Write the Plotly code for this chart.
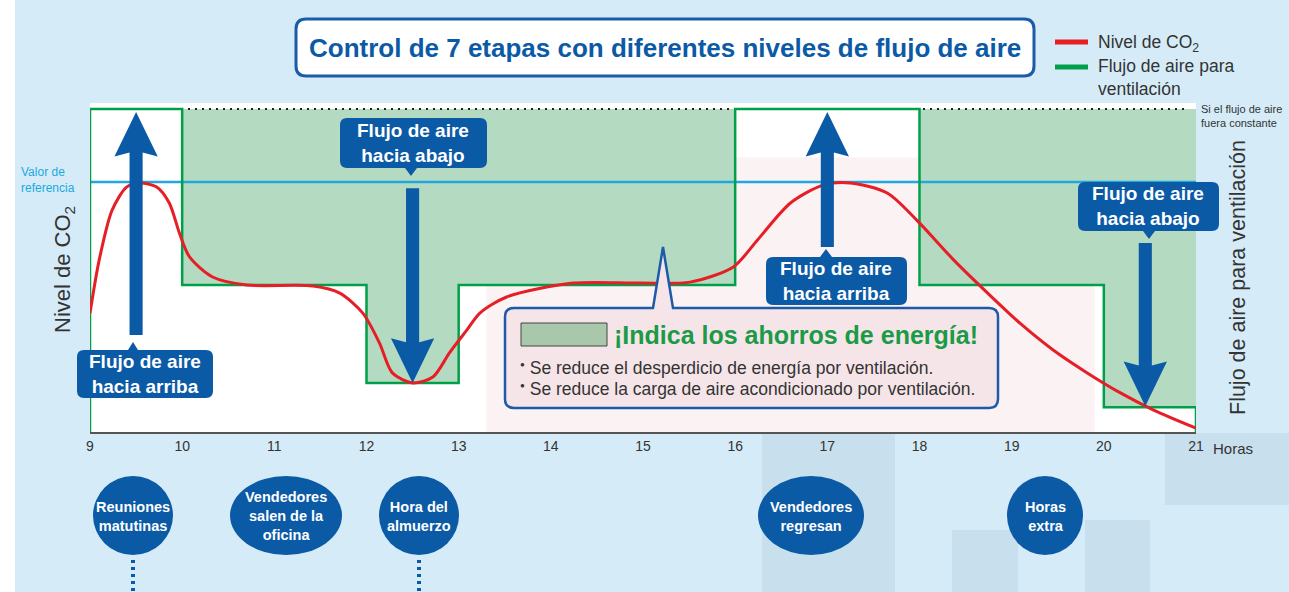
import plotly.graph_objects as go

# ---------------------------------------------------------------------------
# datos (hora del día, nivel relativo 0-100)
# ---------------------------------------------------------------------------
co2_hours = [9.0, 9.10, 9.24, 9.40, 9.54, 9.72, 9.86, 9.97, 10.08, 10.33, 10.70,
             11.42, 11.71, 11.96, 12.14, 12.28, 12.50, 12.72, 12.90, 13.09, 13.23,
             13.52, 14.24, 14.97, 15.51, 15.98, 16.24, 16.60, 16.96, 17.25, 17.65,
             17.97, 18.37, 18.74, 19.09, 19.45, 19.82, 20.18, 20.54, 21.0]
co2_level = [36.8, 53.3, 68.7, 75.9, 77.1, 75.9, 70.9, 61.6, 54.2, 48.0, 45.5,
             45.2, 43.0, 36.8, 27.6, 18.3, 15.2, 17.0, 24.5, 31.6, 36.8,
             41.8, 46.1, 46.1, 46.4, 51.1, 59.4, 70.9, 76.5, 77.1, 74.0,
             65.6, 53.3, 43.0, 33.7, 25.4, 18.3, 12.1, 6.8, 1.2]

flow_hours = [9, 10, 12, 13, 16, 18, 20, 21]
flow_level = [100, 45.5, 15.2, 45.5, 100, 45.5, 7.7, 7.7]
constant_flow = 100
reference_level = 77.4

tick_hours = list(range(9, 22))

arrow_hours = [9.5, 12.5, 17.0, 20.45]
arrow_tail = [30.0, 75.5, 57.3, 58.5]
arrow_tip = [99.1, 15.2, 99.1, 8.0]
arrow_labels = ["Flujo de aire<br>hacia arriba", "Flujo de aire<br>hacia abajo",
                "Flujo de aire<br>hacia arriba", "Flujo de aire<br>hacia abajo"]

events = ["Reuniones<br>matutinas", "Vendedores<br>salen de la<br>oficina",
          "Hora del<br>almuerzo", "Vendedores<br>regresan", "Horas<br>extra"]

# ---------------------------------------------------------------------------
# colores / geometría
# ---------------------------------------------------------------------------
BLUE = "#0b5aa6"
BG = "#d5ecf8"
GREEN = "#00a04a"
GREEN_FILL = "#b4dbc2"
RED = "#e61f26"
CYAN = "#22a8e0"
TXT = "#333333"
FONT = "Liberation Sans, Arial, sans-serif"

W, H = 1289, 592
L, R, T, B = 90, 93, 103, 160
Y_TOP = (H - B - T) / 3.23


def PX(px):
    return (px - L) / (W - L - R)


def PY(py):
    return (H - B - py) / (H - B - T)


def P(px, py):
    return f"{PX(px):.5f},{PY(py):.5f}"


def rrect(x0, y0, x1, y1, r, notch=None):
    """rectángulo redondeado (px) con pico opcional: (lado, base0, base1, tipx, tipy)"""
    d = f"M{P(x0 + r, y0)}"
    if notch and notch[0] == "top":
        d += f" L{P(notch[1], y0)} L{P(notch[3], notch[4])} L{P(notch[2], y0)}"
    d += f" L{P(x1 - r, y0)} Q{P(x1, y0)} {P(x1, y0 + r)}"
    d += f" L{P(x1, y1 - r)} Q{P(x1, y1)} {P(x1 - r, y1)}"
    if notch and notch[0] == "bottom":
        d += f" L{P(notch[2], y1)} L{P(notch[3], notch[4])} L{P(notch[1], y1)}"
    d += f" L{P(x0 + r, y1)} Q{P(x0, y1)} {P(x0, y1 - r)}"
    d += f" L{P(x0, y0 + r)} Q{P(x0, y0)} {P(x0 + r, y0)} Z"
    return d


def note(px, py, text, size, color=TXT, xa="center", ya="middle", **kw):
    annotations.append(dict(x=PX(px), y=PY(py), xref="paper", yref="paper",
                            xanchor=xa, yanchor=ya, showarrow=False, text=text,
                            font=dict(family=FONT, size=size, color=color), **kw))


fig = go.Figure()

# ── relleno: ahorro respecto a flujo constante ─────────────────────────────
step_x = [flow_hours[0]] + flow_hours + [flow_hours[-1]]
step_y = [0] + flow_level + [0]

fig.add_trace(go.Scatter(
    x=[flow_hours[0], flow_hours[-1]], y=[constant_flow, constant_flow],
    mode="lines", line=dict(width=0), hoverinfo="skip",
))
fig.add_trace(go.Scatter(
    x=step_x, y=step_y, mode="lines", line=dict(width=0, shape="hv"),
    fill="tonexty", fillcolor=GREEN_FILL, hoverinfo="skip",
))

# línea "si el flujo de aire fuera constante"
fig.add_trace(go.Scatter(
    x=[flow_hours[0], 20.9], y=[constant_flow, constant_flow],
    mode="lines", line=dict(color="#222", width=2, dash="2px,5px"),
))

# valor de referencia
fig.add_trace(go.Scatter(
    x=[flow_hours[0], flow_hours[-1]], y=[reference_level, reference_level],
    mode="lines", line=dict(color=CYAN, width=2.5),
))

# flujo de aire (escalones)
fig.add_trace(go.Scatter(
    x=step_x, y=step_y, mode="lines",
    line=dict(color=GREEN, width=2.5, shape="hv"),
))

# nivel de CO2
fig.add_trace(go.Scatter(
    x=co2_hours, y=co2_level, mode="lines",
    line=dict(color=RED, width=3, shape="spline", smoothing=0.8),
))

shapes = []
annotations = []

# fondo: franja blanca a la izquierda
shapes.append(dict(type="rect", xref="paper", yref="paper", layer="below",
                   x0=PX(-5), x1=PX(15), y0=PY(600), y1=PY(-5),
                   fillcolor="white", line=dict(width=0)))

# marca de agua (tenue)
shapes.append(dict(type="rect", xref="x", yref="y", layer="below",
                   x0=13.3, x1=19.9, y0=0, y1=85,
                   fillcolor="rgba(236,190,198,0.2)", line=dict(width=0)))
for x0, x1, y0, y1 in [(762, 895, 433, 600), (952, 1018, 530, 600),
                       (1085, 1150, 520, 600), (1165, 1289, 433, 505)]:
    shapes.append(dict(type="rect", xref="paper", yref="paper", layer="below",
                       x0=PX(x0), x1=PX(x1), y0=PY(y1), y1=PY(y0),
                       fillcolor="rgba(150,180,196,0.2)", line=dict(width=0)))

# ── flechas ────────────────────────────────────────────────────────────────
SW, HW, HL = 0.071, 0.235, 13.8
for xh, y0, y1 in zip(arrow_hours, arrow_tail, arrow_tip):
    s = 1 if y1 > y0 else -1
    yb = y1 - s * HL
    pts = [(xh, y1), (xh + HW, yb), (xh + SW, yb + s * 1.2), (xh + SW, y0),
           (xh - SW, y0), (xh - SW, yb + s * 1.2), (xh - HW, yb)]
    d = "M" + " L".join(f"{a},{b}" for a, b in pts) + " Z"
    shapes.append(dict(type="path", xref="x", yref="y", layer="above", path=d,
                       fillcolor=BLUE, line=dict(width=0)))

# etiquetas de las flechas
label_boxes = [
    (77, 350, 213, 398, ("top", 128, 138, 133, 342), (145, 374)),
    (340, 118, 487, 168, ("bottom", 405, 417, 411, 176), (413, 143)),
    (766, 257, 907, 305, ("top", 820, 832, 826, 249), (836, 281)),
    (1078, 182, 1219, 231, ("bottom", 1143, 1155, 1149, 239), (1148, 206)),
]
for text, (x0, y0, x1, y1, notch, (cx, cy)) in zip(arrow_labels, label_boxes):
    shapes.append(dict(type="path", xref="paper", yref="paper", layer="above",
                       path=rrect(x0, y0, x1, y1, 7, notch),
                       fillcolor=BLUE, line=dict(width=0)))
    note(cx, cy, f"<b>{text}</b>", 19, "white")

# ── recuadro de ahorro de energía ─────────────────────────────────────────
shapes.append(dict(type="path", xref="paper", yref="paper", layer="above",
                   path=rrect(505, 308, 998, 408, 9, ("top", 653, 673, 663, 247)),
                   fillcolor="#f6e5e8", line=dict(color="#1d5aa8", width=2.5)))
shapes.append(dict(type="rect", xref="paper", yref="paper", layer="above",
                   x0=PX(521), x1=PX(607), y0=PY(346), y1=PY(323),
                   fillcolor="#a9c7aa", line=dict(color="#444", width=1)))
note(612, 335, "<b>¡Indica los ahorros de energía!</b>", 25, "#1b9a47", xa="left")
dot = "<sup><span style='font-size:8px'>●</span></sup> "
note(518, 368, dot + "Se reduce el desperdicio de energía por ventilación.", 17.5,
     xa="left")
note(518, 389, dot + "Se reduce la carga de aire acondicionado por ventilación.", 17.5,
     xa="left")

# ── título ────────────────────────────────────────────────────────────────
shapes.append(dict(type="path", xref="paper", yref="paper", layer="above",
                   path=rrect(296, 19, 1034, 76, 10),
                   fillcolor="white", line=dict(color="#1a5ca8", width=3)))
note(665, 48, "<b>Control de 7 etapas con diferentes niveles de flujo de aire</b>",
     26, BLUE)

# ── leyenda manual ────────────────────────────────────────────────────────
for py, col in [(42, RED), (67, GREEN)]:
    shapes.append(dict(type="line", xref="paper", yref="paper",
                       x0=PX(1055), x1=PX(1088), y0=PY(py), y1=PY(py),
                       line=dict(color=col, width=5)))
note(1096, 43, "Nivel de CO<sub>2</sub>", 17.5, xa="left")
note(1096, 77, "Flujo de aire para<br>ventilación", 17.5, xa="left", align="left")

# ── textos de ejes ────────────────────────────────────────────────────────
note(64, 270, "Nivel de CO<sub>2</sub>", 22, textangle=-90)
note(1238, 278, "Flujo de aire para ventilación", 21.5, textangle=-90)
note(19, 180, "Valor de<br>referencia", 12, CYAN, xa="left", align="left")
note(1199, 116, "Si el flujo de aire<br>fuera constante", 11, xa="left",
     align="left")
note(1211, 448, "Horas", 15, xa="left")

# ── eventos del día ───────────────────────────────────────────────────────
event_boxes = [(133, 40), (286, 56), (419, 40), (811, 53), (1045, 38)]
for txt, (cx, rx) in zip(events, event_boxes):
    shapes.append(dict(type="circle", xref="paper", yref="paper",
                       x0=PX(cx - rx), x1=PX(cx + rx), y0=PY(555), y1=PY(476),
                       fillcolor=BLUE, line=dict(width=0)))
    note(cx, 516, f"<b>{txt}</b>", 14.5, "white")
for cx in (133, 419):
    shapes.append(dict(type="line", xref="paper", yref="paper",
                       x0=PX(cx), x1=PX(cx), y0=PY(560), y1=PY(600),
                       line=dict(color=BLUE, width=4, dash="3px,4px")))

fig.update_layout(
    width=W, height=H, autosize=False,
    margin=dict(l=L, r=R, t=T, b=B),
    paper_bgcolor=BG, plot_bgcolor="white",
    showlegend=False,
    shapes=shapes, annotations=annotations,
    font=dict(family=FONT, color=TXT),
)
fig.update_xaxes(range=[9, 21], tickvals=tick_hours, showgrid=False, zeroline=False,
                 showline=True, linecolor="#555", linewidth=2, ticks="",
                 tickfont=dict(family=FONT, size=14, color=TXT))
fig.update_yaxes(range=[0, Y_TOP], showgrid=False, zeroline=False,
                 showticklabels=False, showline=False)

fig.write_html("out.html", config={"displayModeBar": False},
               post_script="document.body.style.margin='0';")
